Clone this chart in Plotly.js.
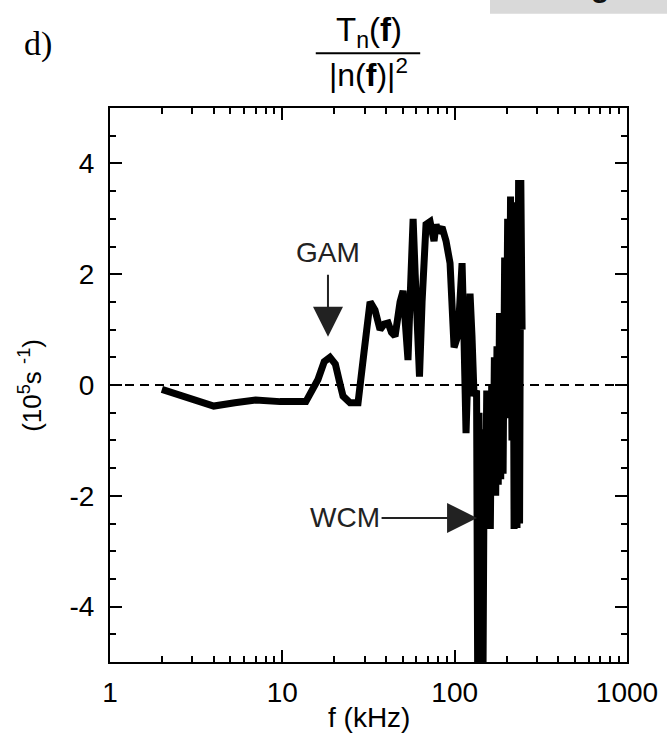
<!DOCTYPE html>
<html>
<head>
<meta charset="utf-8">
<script src="https://cdn.plot.ly/plotly-3.0.1.min.js"></script>
<style>html,body{margin:0;padding:0;background:#fff;}#chart{width:667px;height:738px;}</style>
</head>
<body>
<div id="chart"></div>
<script>
// Frequency (kHz) and Tn(f)/|n(f)|^2 (10^5 s^-1)
const freq = [2.0, 2.84, 4.0, 5.3, 7.0, 9.7, 13.7, 16.1, 17.5, 18.9, 20.3, 21.5, 22.5, 24.7, 27.5,
  29.8, 32.3, 34.5, 36.9, 39, 41.1, 43, 45.1, 48.2, 50.2, 51.5, 53.6, 55.5, 57.4, 59, 61.3, 62.5,
  64.7, 68.2, 72.0, 75.9, 78, 80.1, 84.5, 89.1, 94.0, 99.2, 104.6, 110.4, 113, 116.4, 120, 122.8,
  126, 129.6, 134, 136, 138.5, 141, 143.5, 146, 148.5, 151, 153.5, 156, 158.5, 161, 164, 167,
  170, 173, 176, 179, 182, 185, 188, 191, 195, 199, 203, 207, 211, 215, 218, 221.2, 226, 230,
  235, 238, 242, 246.2];
const tn = [-0.08, -0.22, -0.38, -0.32, -0.27, -0.3, -0.3, 0.1, 0.42, 0.5, 0.38, 0.05, -0.2, -0.32, -0.32,
  0.6, 1.5, 1.35, 1.0, 1.1, 1.12, 0.95, 0.88, 1.5, 1.7, 1.2, 0.45, 1.8, 3.0, 2.0, 0.3, 0.15,
  1.5, 2.9, 2.95, 2.6, 2.9, 2.75, 2.85, 2.6, 2.2, 0.68, 0.9, 2.2, 1.0, -0.87, 0.5, 1.65,
  0.9, -0.2, -0.1, -5.3, -0.5, -5.3, -0.8, -5.3, -1.0, -2.6, -0.1, -2.6, -0.3, -2.6, 0.0, -2.0,
  0.5, -2.0, 0.7, -1.8, 1.3, -1.7, 1.2, -1.6, 2.3, -0.5, 3.0, -0.6, 3.4, -1.0, 3.3, -2.6, 2.8, -2.58,
  3.7, -2.5, 3.7, 1.0];

const xTickVals = [1, 10, 100, 1000];
const xTickText = ['1', '10', '100', '1000'];
const xMinorVals = [2,3,4,5,6,7,8,9,20,30,40,50,60,70,80,90,200,300,400,500,600,700,800,900];
const yTickVals = [-4, -2, 0, 2, 4];
const yTickText = ['-4', '-2', '0', '2', '4'];

const FONT = 'Arial, "Liberation Sans", sans-serif';

const trace = {
  x: freq, y: tn, type: 'scatter', mode: 'lines',
  line: {color: '#000', width: 7},
  hoverinfo: 'skip', showlegend: false
};

const layout = {
  width: 667, height: 738,
  margin: {l: 110, r: 40, t: 108, b: 76},
  paper_bgcolor: '#fff', plot_bgcolor: '#fff',
  font: {family: FONT, color: '#000', size: 28},
  xaxis: {
    type: 'log', range: [0, 3], tickmode: 'array', tickvals: xTickVals, ticktext: xTickText,
    ticks: 'inside', ticklen: 12, tickwidth: 2, tickcolor: '#000',
    showline: true, linewidth: 2, linecolor: '#000', mirror: 'allticks',
    showgrid: false, zeroline: false, ticklabelstandoff: 4,
    tickfont: {size: 28, family: FONT},
    minor: {tickmode: 'array', tickvals: xMinorVals, ticks: 'inside', ticklen: 6, tickwidth: 2, tickcolor: '#000', showgrid: false}
  },
  yaxis: {
    range: [-5, 5], tickmode: 'array', tickvals: yTickVals, ticktext: yTickText,
    ticks: 'inside', ticklen: 12, tickwidth: 2, tickcolor: '#000',
    showline: true, linewidth: 2, linecolor: '#000', mirror: 'allticks',
    showgrid: false, zeroline: false, ticklabelstandoff: 8,
    tickfont: {size: 28, family: FONT},
    minor: {dtick: 0.5, tick0: 0, ticks: 'inside', ticklen: 6, tickwidth: 2, tickcolor: '#000', showgrid: false}
  },
  shapes: [
    {type: 'line', xref: 'paper', yref: 'y', x0: 0, x1: 1, y0: 0, y1: 0,
     line: {color: '#000', width: 2.2, dash: '9px,6px'}, layer: 'below'},
    {type: 'line', xref: 'paper', yref: 'paper', x0: 0.398, x1: 0.600, y0: 1.099, y1: 1.099,
     line: {color: '#000', width: 2}},
    {type: 'rect', xref: 'paper', yref: 'paper', x0: 0.735, x1: 1.08, y0: 1.170, y1: 1.2,
     line: {width: 0}, fillcolor: '#d9d9d9'}
  ],
  annotations: [
    {xref: 'paper', yref: 'paper', x: 0.948, y: 1.186, text: '<b>g</b>', showarrow: false,
     font: {size: 30, family: FONT, color: '#111'}, xanchor: 'center', yanchor: 'bottom'},
    {xref: 'paper', yref: 'paper', x: 0.5, y: 1.137, text: 'T<sub>n</sub>(<b>f</b>)', showarrow: false,
     font: {size: 33, family: FONT}, xanchor: 'center', yanchor: 'middle'},
    {xref: 'paper', yref: 'paper', x: 0.5, y: 1.064, text: '|n(<b>f</b>)|<sup>2</sup>', showarrow: false,
     font: {size: 32, family: FONT}, xanchor: 'center', yanchor: 'middle'},
    {xref: 'paper', yref: 'paper', x: -0.139, y: 1.115, text: 'd)', showarrow: false,
     font: {size: 34, family: '"Times New Roman", "Liberation Serif", serif'}, xanchor: 'center', yanchor: 'middle'},
    {xref: 'paper', yref: 'paper', x: -0.155, y: 0.5, text: '(10<sup>5</sup>s <sup>-1</sup>)', showarrow: false,
     textangle: -90, font: {size: 26, family: FONT}, xanchor: 'center', yanchor: 'middle'},
    {xref: 'paper', yref: 'paper', x: 0.5, y: -0.101, text: 'f (kHz)', showarrow: false,
     font: {size: 28, family: FONT}, xanchor: 'center', yanchor: 'middle'},
    {xref: 'x', yref: 'y', x: Math.log10(18.4), y: 0.87, text: 'GAM', showarrow: true,
     ax: 0, ay: -84, arrowhead: 2, arrowsize: 3, arrowwidth: 2, arrowcolor: '#222', borderpad: 6,
     font: {size: 28, family: FONT, color: '#222'}},
    {xref: 'x', yref: 'y', x: Math.log10(134.9), y: -2.4, text: 'WCM', showarrow: true,
     ax: -132, ay: 0, arrowhead: 2, arrowsize: 3, arrowwidth: 2, arrowcolor: '#222', borderpad: 1,
     font: {size: 28, family: FONT, color: '#222'}}
  ]
};

Plotly.newPlot('chart', [trace], layout, {displayModeBar: false, staticPlot: true});
</script>
</body>
</html>
